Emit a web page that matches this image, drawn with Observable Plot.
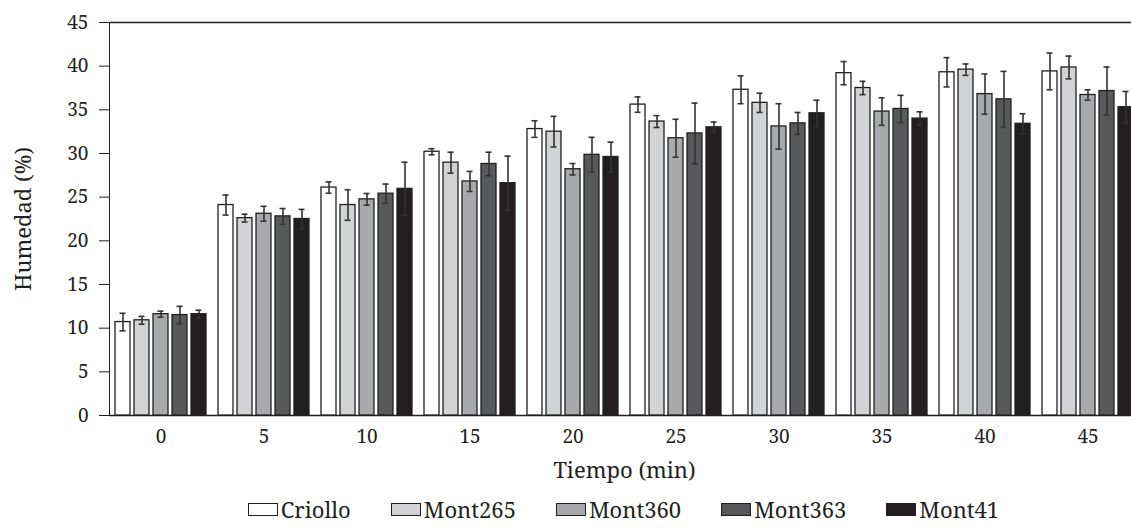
<!DOCTYPE html>
<html>
<head>
<meta charset="utf-8">
<script src="https://cdn.jsdelivr.net/npm/d3@7"></script>
<script src="https://cdn.jsdelivr.net/npm/@observablehq/plot@0.6"></script>
<style>
  html, body { margin: 0; padding: 0; background: #fff; overflow: hidden; width: 1131px; height: 528px; }
  #chart { width: 1152px; font-family: "Noto Serif", "DejaVu Serif", serif; color: #231f20; }
  .legend { display: flex; justify-content: center; align-items: center; height: 38px;
            padding-left: 105px; padding-right: 10px; box-sizing: border-box; width: 1152px;
            font-size: 22px; gap: 40px; }
  .item { display: flex; align-items: center; }
  .sw { width: 30px; height: 13px; border: 1.3px solid #231f20; margin-right: 3px; box-sizing: border-box; }
</style>
</head>
<body>
<div id="chart"></div>
<script>
const times = [0, 5, 10, 15, 20, 25, 30, 35, 40, 45];
const series = ["Criollo", "Mont265", "Mont360", "Mont363", "Mont41"];
const colors = ["#ffffff", "#d1d3d4", "#a7a9ac", "#58595b", "#231f20"];

const criollo    = [10.7, 24.1, 26.1, 30.2, 32.8, 35.6, 37.3, 39.2, 39.3, 39.4];
const criolloErr = [1.0, 1.15, 0.65, 0.35, 0.95, 0.88, 1.6, 1.33, 1.68, 2.1];
const mont265    = [10.9, 22.6, 24.1, 28.95, 32.5, 33.66, 35.8, 37.5, 39.6, 39.85];
const mont265Err = [0.45, 0.45, 1.75, 1.2, 1.75, 0.68, 1.1, 0.76, 0.65, 1.3];
const mont360    = [11.6, 23.1, 24.75, 26.8, 28.2, 31.75, 33.1, 34.8, 36.8, 36.7];
const mont360Err = [0.35, 0.85, 0.67, 1.15, 0.65, 2.17, 2.6, 1.58, 2.3, 0.6];
const mont363    = [11.5, 22.8, 25.4, 28.8, 29.85, 32.3, 33.45, 35.1, 36.2, 37.15];
const mont363Err = [1.0, 0.9, 1.1, 1.35, 2.0, 3.47, 1.25, 1.56, 3.2, 2.75];
const mont41     = [11.6, 22.5, 25.95, 26.6, 29.6, 33.0, 34.6, 34.0, 33.4, 35.3];
const mont41Err  = [0.45, 1.1, 3.05, 3.1, 1.7, 0.6, 1.5, 0.77, 1.15, 1.8];

const yTicks = [0, 5, 10, 15, 20, 25, 30, 35, 40, 45];

const means = [criollo, mont265, mont360, mont363, mont41];
const errs = [criolloErr, mont265Err, mont360Err, mont363Err, mont41Err];

const table = [];
times.forEach((t, i) => {
  series.forEach((s, j) => {
    const m = means[j][i], e = errs[j][i];
    table.push({time: t, series: s, mean: m, lo: m - e, hi: m + e});
  });
});

const ink = "#231f20";
const plot = Plot.plot({
  width: 1152,
  height: 490,
  marginLeft: 105,
  marginRight: 10,
  marginTop: 22,
  marginBottom: 75,
  style: {fontFamily: "'Noto Serif', 'DejaVu Serif', serif", fontSize: "19px", color: ink, background: "white", overflow: "visible"},
  fx: {domain: times, padding: 0, tickSize: 0, tickPadding: 14, label: "Tiempo (min)", labelAnchor: "center", labelOffset: 62, labelArrow: "none"},
  x: {domain: series, axis: null, paddingInner: 0.2, paddingOuter: 0.293, align: 0.5},
  y: {domain: [0, 45], ticks: yTicks, tickSize: 10, tickPadding: 11, line: true, label: "Humedad (%)", labelAnchor: "center", labelOffset: 94, labelArrow: "none"},
  color: {domain: series, range: colors},
  marks: [
    Plot.ruleY([0, 45], {stroke: ink, strokeWidth: 1.5}),
    Plot.barY(table, {fx: "time", x: "series", y: "mean", fill: "series", stroke: ink, strokeWidth: 1.3}),
    Plot.ruleX(table, {fx: "time", x: "series", y1: "lo", y2: "hi", stroke: "#333", strokeWidth: 1.6}),
    Plot.tickY(table, {fx: "time", x: "series", y: "lo", stroke: "#333", strokeWidth: 1.6, insetLeft: 4.5, insetRight: 4.5}),
    Plot.tickY(table, {fx: "time", x: "series", y: "hi", stroke: "#333", strokeWidth: 1.6, insetLeft: 4.5, insetRight: 4.5})
  ]
});

const chart = document.getElementById("chart");
chart.appendChild(plot);
d3.select(plot).selectAll("text").filter(function() {
  const t = this.textContent;
  return t === "Tiempo (min)" || t === "Humedad (%)";
}).style("font-size", "22px");

const legend = document.createElement("div");
legend.className = "legend";
series.forEach((s, j) => {
  const item = document.createElement("div");
  item.className = "item";
  const sw = document.createElement("div");
  sw.className = "sw";
  sw.style.background = colors[j];
  const label = document.createElement("span");
  label.textContent = s;
  item.appendChild(sw);
  item.appendChild(label);
  legend.appendChild(item);
});
chart.appendChild(legend);
</script>
</body>
</html>
